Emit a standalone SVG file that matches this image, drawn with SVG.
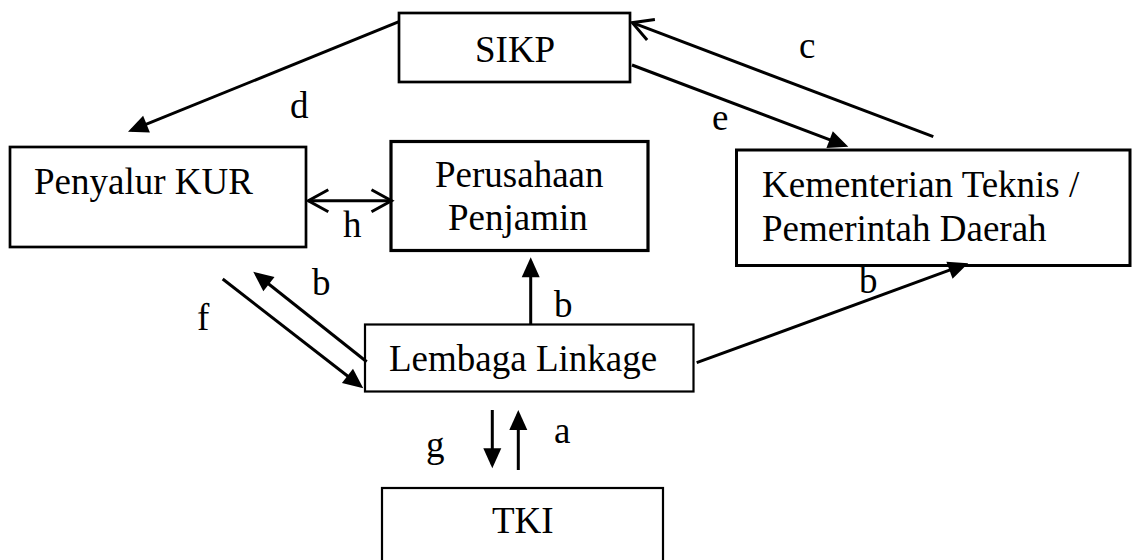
<svg xmlns="http://www.w3.org/2000/svg" width="1133" height="560" viewBox="0 0 1133 560">
  <style>
    .box { fill: #fff; stroke: #000; }
    .lbl { font-family: "Liberation Serif", "Times New Roman", serif; font-size: 37px; fill: #000; }
    .ln { stroke: #000; stroke-width: 3; fill: none; }
  </style>
  <defs>
    <!-- solid triangular head; tip sits 4 units past the line end -->
    <marker id="tri" markerUnits="userSpaceOnUse" markerWidth="20" markerHeight="18" refX="16" refY="9" orient="auto" overflow="visible">
      <path d="M0,0 L20,9 L0,18 z" fill="#000"/>
    </marker>
    <!-- open V head -->
    <marker id="vee" markerUnits="userSpaceOnUse" markerWidth="22" markerHeight="24" refX="20" refY="11" orient="auto-start-reverse" overflow="visible">
      <path d="M0,0 L20,11 L0,22" fill="none" stroke="#000" stroke-width="3"/>
    </marker>
  </defs>
  <rect width="1133" height="560" fill="#fff"/>

  <g id="sikp">
    <rect class="box" x="399" y="13" width="231" height="69" stroke-width="2.7"/>
    <text class="lbl" x="475" y="62">SIKP</text>
  </g>
  <g id="penyalur-kur">
    <rect class="box" x="10" y="147" width="296" height="100" stroke-width="2.7"/>
    <text class="lbl" x="34" y="194">Penyalur KUR</text>
  </g>
  <g id="perusahaan-penjamin">
    <rect class="box" x="391" y="141.5" width="257" height="109" stroke-width="3.2"/>
    <text class="lbl" x="435" y="187">Perusahaan</text>
    <text class="lbl" x="448" y="230">Penjamin</text>
  </g>
  <g id="kementerian">
    <rect class="box" x="736.5" y="150" width="393.5" height="115.5" stroke-width="3"/>
    <text class="lbl" x="762" y="197">Kementerian Teknis /</text>
    <text class="lbl" x="762" y="241">Pemerintah Daerah</text>
  </g>
  <g id="lembaga-linkage">
    <rect class="box" x="365" y="324.5" width="328.5" height="67" stroke-width="2.2"/>
    <text class="lbl" x="389" y="371">Lembaga Linkage</text>
  </g>
  <g id="tki">
    <rect class="box" x="382" y="488" width="281" height="90" stroke-width="2.2"/>
    <text class="lbl" x="492" y="533">TKI</text>
  </g>

  <g id="connectors">
    <!-- d: SIKP to Penyalur KUR -->
    <line class="ln" x1="399" y1="21.7" x2="131.7" y2="130.2" marker-end="url(#tri)"/>
    <!-- e: SIKP to Kementerian -->
    <line class="ln" x1="632" y1="65" x2="844.6" y2="145.3" marker-end="url(#tri)"/>
    <!-- c: Kementerian to SIKP -->
    <line class="ln" x1="933.3" y1="136.7" x2="632.3" y2="22.7" marker-end="url(#vee)"/>
    <!-- h: Penyalur KUR <-> Perusahaan Penjamin -->
    <line class="ln" x1="308.3" y1="200.7" x2="391.5" y2="200.7" marker-start="url(#vee)" marker-end="url(#vee)"/>
    <!-- b: Lembaga Linkage to Penyalur KUR -->
    <line class="ln" x1="366.7" y1="361.7" x2="256.4" y2="274.2" marker-end="url(#tri)"/>
    <!-- f: Penyalur KUR to Lembaga Linkage -->
    <line class="ln" x1="222.7" y1="279" x2="360.1" y2="385.8" marker-end="url(#tri)"/>
    <!-- b: Lembaga Linkage to Perusahaan Penjamin -->
    <line class="ln" x1="530.7" y1="324" x2="530.7" y2="261.3" marker-end="url(#tri)"/>
    <!-- b: Lembaga Linkage to Kementerian -->
    <line class="ln" x1="696.7" y1="362.7" x2="964.5" y2="264.7" marker-end="url(#tri)"/>
    <!-- g: Lembaga Linkage to TKI -->
    <line class="ln" x1="492.3" y1="410" x2="492.3" y2="464.3" marker-end="url(#tri)"/>
    <!-- a: TKI to Lembaga Linkage -->
    <line class="ln" x1="518.3" y1="470" x2="518.3" y2="414" marker-end="url(#tri)"/>

    <text class="lbl" x="290" y="118">d</text>
    <text class="lbl" x="799" y="58">c</text>
    <text class="lbl" x="712" y="130">e</text>
    <text class="lbl" x="343" y="237">h</text>
    <text class="lbl" x="312" y="295">b</text>
    <text class="lbl" x="197" y="330">f</text>
    <text class="lbl" x="554" y="317">b</text>
    <text class="lbl" x="859" y="293">b</text>
    <text class="lbl" x="554" y="443">a</text>
    <text class="lbl" x="426" y="457">g</text>
  </g>
</svg>
